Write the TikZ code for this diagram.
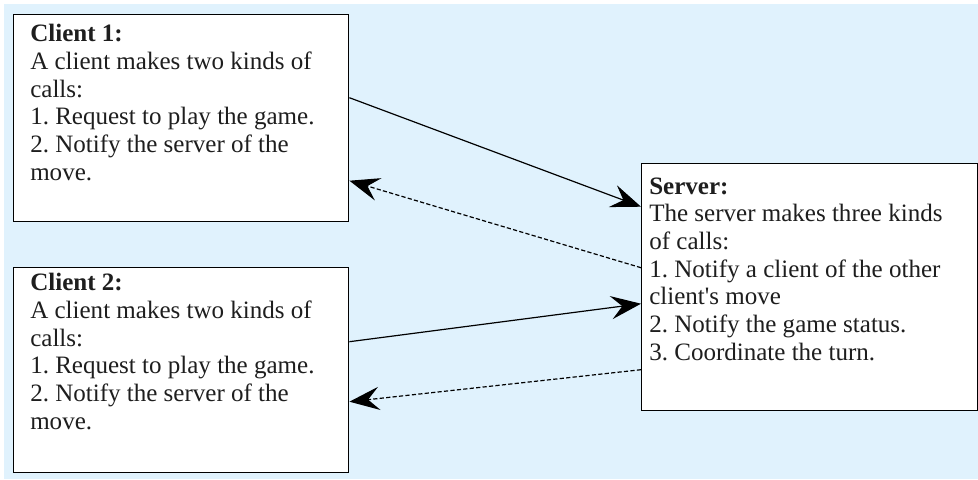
\documentclass[tikz,border=0pt]{standalone}
\usepackage{fontspec}
\setmainfont{Liberation Serif}
\usepackage{tikz}
\usetikzlibrary{arrows.meta,positioning,calc}
\definecolor{paneBlue}{HTML}{E0F2FD}
\definecolor{inkGray}{HTML}{1E1E1E}
\frenchspacing

\begin{document}
\begin{tikzpicture}[>={Stealth[length=7.5mm,width=5.8mm,inset=2.8mm]},
  box/.style={draw,line width=1pt,fill=white,anchor=north west,inner sep=0pt},
  txt/.style={anchor=north west,inner sep=0pt,align=left,
    text=inkGray,font=\fontsize{17.8}{19.7}\selectfont},
  call/.style={line width=0.85pt,->},
  reply/.style={call,dash pattern=on 3pt off 1.6pt}]
\useasboundingbox (0,0) rectangle (24.45,-11.975);
\fill[paneBlue] (0.1,-0.1) rectangle (24.45,-11.975);
% the two clients
\node[box,minimum width=8.375cm,minimum height=5.175cm] (c1) at (0.325,-0.35) {};
\node[txt] (t1) at (0.75,-0.6) {\textbf{Client 1:}\\A client makes two kinds of\\calls:\\1. Request to play the game.\\2. Notify the server of the\\move.};
\node[box,minimum width=8.375cm,minimum height=5.125cm] (c2) at (0.325,-6.675) {};
\node[txt] (t2) at (0.75,-6.825) {\textbf{Client 2:}\\A client makes two kinds of\\calls:\\1. Request to play the game.\\2. Notify the server of the\\move.};
% the server
\node[box,minimum width=8.4cm,minimum height=6.175cm] (srv) at (16.025,-4.075) {};
\node[txt] (ts) at (16.225,-4.43) {\textbf{Server:}\\The server makes three kinds\\of calls:\\1. Notify a client of the other\\client\textquotesingle s move\\2. Notify the game status.\\3. Coordinate the turn.};
% calls and replies
\draw[call] ([yshift=0.5125cm]c1.east) -- ([yshift=2.0125cm]srv.west);
\draw[reply] ([yshift=0.4875cm]srv.west) -- ([yshift=-1.5625cm]c1.east);
\draw[call] ([yshift=0.7125cm]c2.east) -- ([yshift=-0.4125cm]srv.west);
\draw[reply] ([yshift=-2.0625cm]srv.west) -- ([yshift=-0.7875cm]c2.east);
\end{tikzpicture}
\end{document}
